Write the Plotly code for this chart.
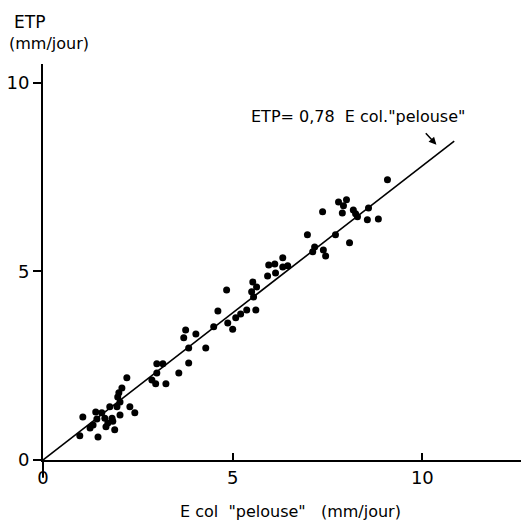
import plotly.graph_objects as go

# E col "pelouse" (mm/jour) vs ETP (mm/jour)
e_col = [0.97, 1.45, 1.24, 1.32, 1.66, 1.89, 1.05, 1.42, 1.63, 1.82, 1.84, 1.71,
         1.39, 1.55, 1.76, 1.95, 2.29, 2.42, 2.03, 2.03, 1.97, 2.00, 2.08, 2.21,
         2.87, 2.97, 3.00, 3.00, 3.16, 3.24, 3.58, 3.84, 3.84, 4.29, 3.71, 3.76,
         4.03, 4.50, 4.87, 5.00, 5.08, 5.21, 5.37, 5.61, 4.61, 4.84, 5.53, 5.63,
         5.50, 5.55, 5.92, 6.13, 5.95, 6.11, 6.32, 6.45, 6.32, 6.97, 7.16, 7.11,
         7.39, 7.45, 7.71, 8.08, 7.37, 7.79, 8.00, 7.92, 7.89, 8.18, 8.24, 8.29,
         8.58, 8.55, 8.84, 9.08]
etp = [0.64, 0.61, 0.85, 0.93, 0.88, 0.80, 1.14, 1.09, 1.11, 1.11, 1.03, 0.98,
       1.27, 1.25, 1.41, 1.41, 1.41, 1.25, 1.19, 1.54, 1.67, 1.78, 1.91, 2.18,
       2.12, 2.02, 2.31, 2.55, 2.55, 2.02, 2.31, 2.57, 2.97, 2.97, 3.24, 3.45,
       3.34, 3.53, 3.63, 3.47, 3.77, 3.87, 3.98, 3.98, 3.95, 4.51, 4.72, 4.59,
       4.46, 4.32, 4.88, 4.96, 5.17, 5.20, 5.12, 5.15, 5.36, 5.97, 5.65, 5.52,
       5.57, 5.41, 5.97, 5.76, 6.58, 6.84, 6.90, 6.74, 6.55, 6.63, 6.53, 6.45,
       6.68, 6.37, 6.39, 7.43]

slope = 0.78
line_x = [0, 10.84]
line_y = [slope * v for v in line_x]

tick_vals = [0, 5, 10]
tick_text = ["0", "5", "10"]

FONT = "DejaVu Sans"

fig = go.Figure()
fig.add_trace(go.Scatter(x=line_x, y=line_y, mode="lines",
                         line=dict(color="black", width=1.6),
                         hoverinfo="skip", showlegend=False))
fig.add_trace(go.Scatter(x=e_col, y=etp, mode="markers",
                         marker=dict(color="black", size=7),
                         showlegend=False))

fig.update_layout(
    width=521, height=523,
    margin=dict(l=43, r=0, t=64, b=63),
    paper_bgcolor="white", plot_bgcolor="white",
    font=dict(family=FONT, color="black"),
    xaxis=dict(range=[0, 12.6], showgrid=False, zeroline=False,
               showline=True, linecolor="black", linewidth=2,
               ticks="inside", ticklen=7, tickwidth=2, tickcolor="black",
               tickvals=tick_vals, ticktext=tick_text,
               tickfont=dict(size=18, family=FONT)),
    yaxis=dict(range=[0, 10.5], showgrid=False, zeroline=False,
               showline=True, linecolor="black", linewidth=2,
               ticks="outside", ticklen=8, tickwidth=2, tickcolor="black",
               tickvals=tick_vals, ticktext=tick_text,
               tickfont=dict(size=18, family=FONT)),
    shapes=[dict(type="line", xref="paper", yref="paper",
                 x0=0, x1=0, y0=-0.045, y1=0,
                 line=dict(color="black", width=2))],
    annotations=[
        dict(text="ETP", xref="paper", yref="paper",
             x=-0.065, y=1.106, xanchor="left", yanchor="middle",
             showarrow=False, font=dict(size=17, family=FONT)),
        dict(text="(mm/jour)", xref="paper", yref="paper",
             x=-0.075, y=1.053, xanchor="left", yanchor="middle",
             showarrow=False, font=dict(size=16, family=FONT)),
        dict(text='E col  "pelouse"   (mm/jour)', xref="paper", yref="paper",
             x=(290 - 43) / 478, y=-0.13, xanchor="center", yanchor="middle",
             showarrow=False, font=dict(size=16, family=FONT)),
        dict(text='ETP= 0,78  E col."pelouse"', xref="x", yref="y",
             x=8.3, y=9.12, xanchor="center", yanchor="middle",
             showarrow=False, font=dict(size=16, family=FONT)),
        dict(text="", xref="x", yref="y", x=10.37, y=8.36,
             ax=-12, ay=-13, showarrow=True, arrowhead=2, arrowsize=1,
             arrowwidth=1.5, arrowcolor="black"),
    ],
)

fig.write_html("out.html")
